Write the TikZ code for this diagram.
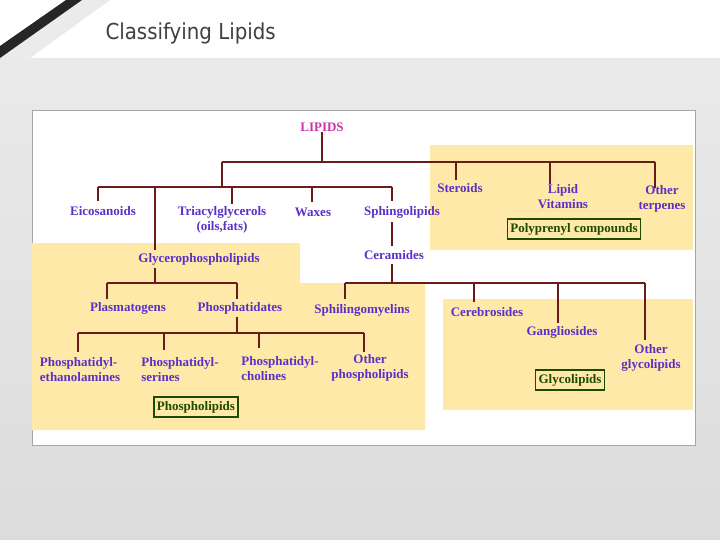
\documentclass[tikz,border=0pt]{standalone}
\usepackage{fontspec}
\setmainfont{Liberation Serif}
\newfontfamily\titlefont{DejaVu Sans Condensed}
\begin{document}
\begin{tikzpicture}[x=1pt,y=-1pt,
  ln/.style={draw=lnc,line width=2.2pt},
  t/.style={text=txc,font=\bfseries\fontsize{13}{15}\selectfont,inner sep=0pt,align=center},
  gb/.style={t,text=gbc,draw=gbc,line width=1.6pt,inner sep=3pt,minimum height=20pt}]
\definecolor{lnc}{HTML}{6B1A1A}
\definecolor{txc}{HTML}{5A30C8}
\definecolor{gbc}{HTML}{1E4A00}
\definecolor{yel}{HTML}{FFE9A8}
\definecolor{bg}{HTML}{DCDCDC}
\useasboundingbox (0,0) rectangle (720,540);
\shade[top color=bg!60,bottom color=bg] (0,58) rectangle (720,540);
\fill[white] (0,0) rectangle (720,58);
\fill[black!8] (82,0) -- (110,0) -- (30,58) -- (0,58) -- (0,50) -- cycle;
\fill[black!85] (66,0) -- (82,0) -- (0,58) -- (0,46) -- cycle;
\node[anchor=west,text=black!75,font=\titlefont\fontsize{22}{22}\selectfont] (title) at (102,33) {Classifying Lipids};
\draw[fill=white,draw=gray!70] (32,110) rectangle (695,445);
\fill[yel] (430,145) rectangle (693,250);
\fill[yel] (32,243) -- (300,243) -- (300,283) -- (425,283) -- (425,430) -- (32,430) -- cycle;
\fill[yel] (443,299) rectangle (693,410);
% nodes
\node[t,text={rgb,255:red,204;green,51;blue,170}] (lip) at (322,127) {LIPIDS};
\node[t] (eic) at (103,211) {Eicosanoids};
\node[t] (tri) at (222,220) {Triacylglycerols\\(oils,fats)};
\node[t] (wax) at (313,212) {Waxes};
\node[t] (sph) at (402,212) {Sphingolipids};
\node[t] (ste) at (460,188) {Steroids};
\node[t] (vit) at (563,197) {Lipid\\Vitamins};
\node[t] (ter) at (662,199) {Other\\terpenes};
\node[gb] (poly) at (574,229) {Polyprenyl compounds};
\node[t] (gly) at (199,259) {Glycerophospholipids};
\node[t] (cer) at (394,255) {Ceramides};
\node[t] (pla) at (128,308) {Plasmatogens};
\node[t] (pha) at (240,308) {Phosphatidates};
\node[t] (sm) at (362,310) {Sphilingomyelins};
\node[t] (cbr) at (487,312) {Cerebrosides};
\node[t] (gan) at (562,332) {Gangliosides};
\node[t] (ogl) at (651,358) {Other\\glycolipids};
\node[gb] (glb) at (570,380) {Glycolipids};
\node[t,align=left] (pe) at (80,370) {Phosphatidyl-\\ethanolamines};
\node[t,align=left] (ps) at (180,370) {Phosphatidyl-\\serines};
\node[t,align=left] (pc) at (280,369) {Phosphatidyl-\\cholines};
\node[t] (oph) at (370,368) {Other\\phospholipids};
\node[gb] (phl) at (196,407) {Phospholipids};
% coordinates
\coordinate (h1l) at (222,162); \coordinate (h1r) at (655,162); \coordinate (h1m) at (322,162);
\coordinate (h2l) at (98,187); \coordinate (h2r) at (392,187);
\coordinate (h3l) at (107,283); \coordinate (h3r) at (237,283);
\coordinate (h4l) at (78,333); \coordinate (h4r) at (364,333);
\coordinate (h5l) at (345,283); \coordinate (h5r) at (645,283);
% lines
\draw[ln] (lip.south) -- (h1m);
\draw[ln] (h1l) -- (h1r);
\draw[ln] (h1l) -- (222,187);
\draw[ln] (456,162) -- (456,180);
\draw[ln] (550,162) -- (550,184);
\draw[ln] (h1r) -- (655,188);
\draw[ln] (h2l) -- (h2r);
\draw[ln] (h2l) -- (98,201);
\draw[ln] (155,187) -- (155,250);
\draw[ln] (232,187) -- (232,204);
\draw[ln] (312,187) -- (312,202);
\draw[ln] (h2r) -- (392,201);
\draw[ln] (392,222) -- (392,246);
\draw[ln] (392,264) -- (392,283);
\draw[ln] (h5l) -- (h5r);
\draw[ln] (h5l) -- (345,299);
\draw[ln] (474,283) -- (474,302);
\draw[ln] (558,283) -- (558,323);
\draw[ln] (h5r) -- (645,340);
\draw[ln] (155,268) -- (155,283);
\draw[ln] (h3l) -- (h3r);
\draw[ln] (h3l) -- (107,299);
\draw[ln] (h3r) -- (237,299);
\draw[ln] (237,317) -- (237,333);
\draw[ln] (h4l) -- (h4r);
\draw[ln] (h4l) -- (78,352);
\draw[ln] (164,333) -- (164,350);
\draw[ln] (259,333) -- (259,348);
\draw[ln] (h4r) -- (364,352);
\end{tikzpicture}
\end{document}
